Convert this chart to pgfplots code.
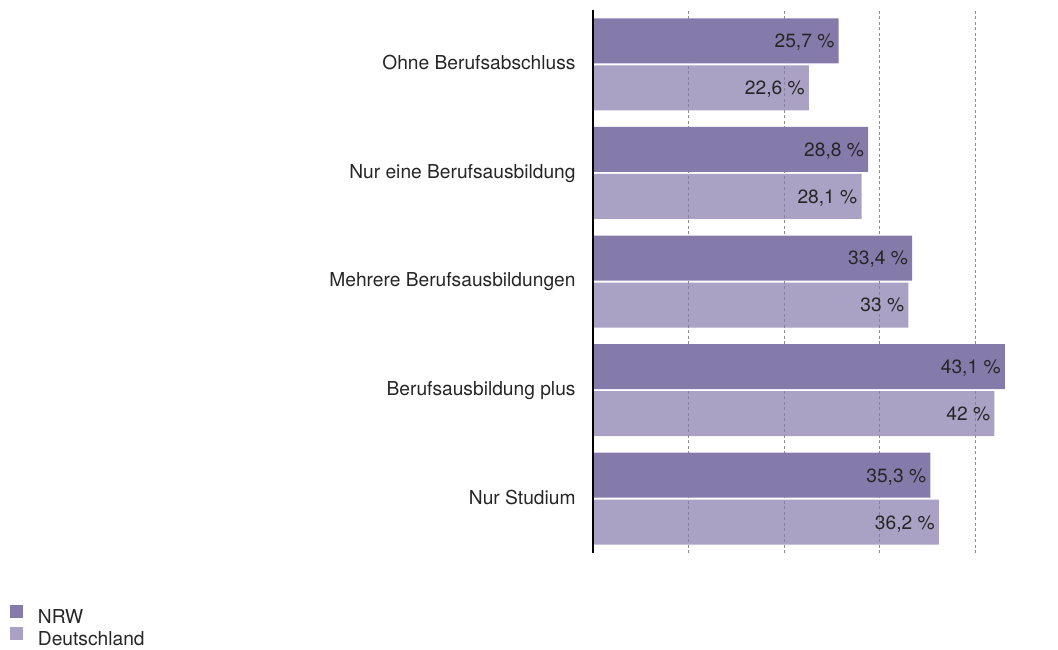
\documentclass[border=0pt]{standalone}
\usepackage{fontspec}
\setmainfont{TeX Gyre Heros}
\usepackage{pgfplots}
\pgfplotsset{compat=1.18}
\definecolor{nrw}{HTML}{857BAB}
\definecolor{gridgray}{HTML}{8F8F8F}
\definecolor{txt}{HTML}{262626}
\newcommand{\lblfont}{\fontsize{19.2pt}{22pt}\selectfont}

\begin{document}
\begin{tikzpicture}
\useasboundingbox (0,0) rectangle (1058pt,649pt);
\begin{axis}[
    at={(593pt,96pt)}, anchor=south west,
    scale only axis, width=430pt, height=543pt,
    clip=false,
    xbar, bar width=45pt,
    xmin=0, xmax=45, ymin=-0.5, ymax=4.5,
    xtick={10,20,30,40}, xticklabels={},
    xmajorgrids,
    grid style={gridgray, line width=0.8pt, dash pattern=on 3pt off 2.5pt},
    ytick={0,...,4},
    yticklabels={Nur Studium, Berufsausbildung plus, Mehrere Berufsausbildungen, Nur eine Berufsausbildung, Ohne Berufsabschluss},
    yticklabel style={font=\lblfont, text=txt, anchor=east, inner sep=0pt, text height=13.8pt, text depth=0pt, xshift=-13pt, yshift=1.5pt},
    tick style={draw=none},
    axis line style={draw=none},
    nodes near coords={\pgfmathprintnumber{\pgfplotspointmeta}~\%},
    nodes near coords style={font=\lblfont, text=txt, text opacity=1, anchor=east, inner sep=0pt, text height=13.8pt, text depth=0pt, xshift=-4pt},
    every node near coord/.append style={/pgf/number format/fixed, /pgf/number format/precision=1, /pgf/number format/use comma, /pgf/number format/assume math mode=true},
    legend style={at={(axis description cs:-1.356,-0.095)}, anchor=north west, draw=none, fill=none,
        font=\lblfont, text=txt, inner sep=0pt, outer sep=0pt, row sep=0pt,
        nodes={inner sep=0pt, text height=14pt, text depth=4pt},
        /tikz/every odd column/.append style={column sep=15pt}},
    legend cell align=left,
    legend image code/.code={\fill[#1] (0pt,0.5pt) rectangle (13pt,13.5pt);},
]
\addplot[fill=nrw, draw=none, bar shift=23.5pt] coordinates {
    (35.3,0) (43.1,1) (33.4,2) (28.8,3) (25.7,4)
};
\addplot[fill=nrw, fill opacity=0.7, draw=none, bar shift=-23.5pt] coordinates {
    (36.2,0) (42,1) (33,2) (28.1,3) (22.6,4)
};
\draw[black, line width=1.2pt] (rel axis cs:0,0) -- (rel axis cs:0,1);
\legend{NRW, Deutschland}
\end{axis}
\end{tikzpicture}
\end{document}
